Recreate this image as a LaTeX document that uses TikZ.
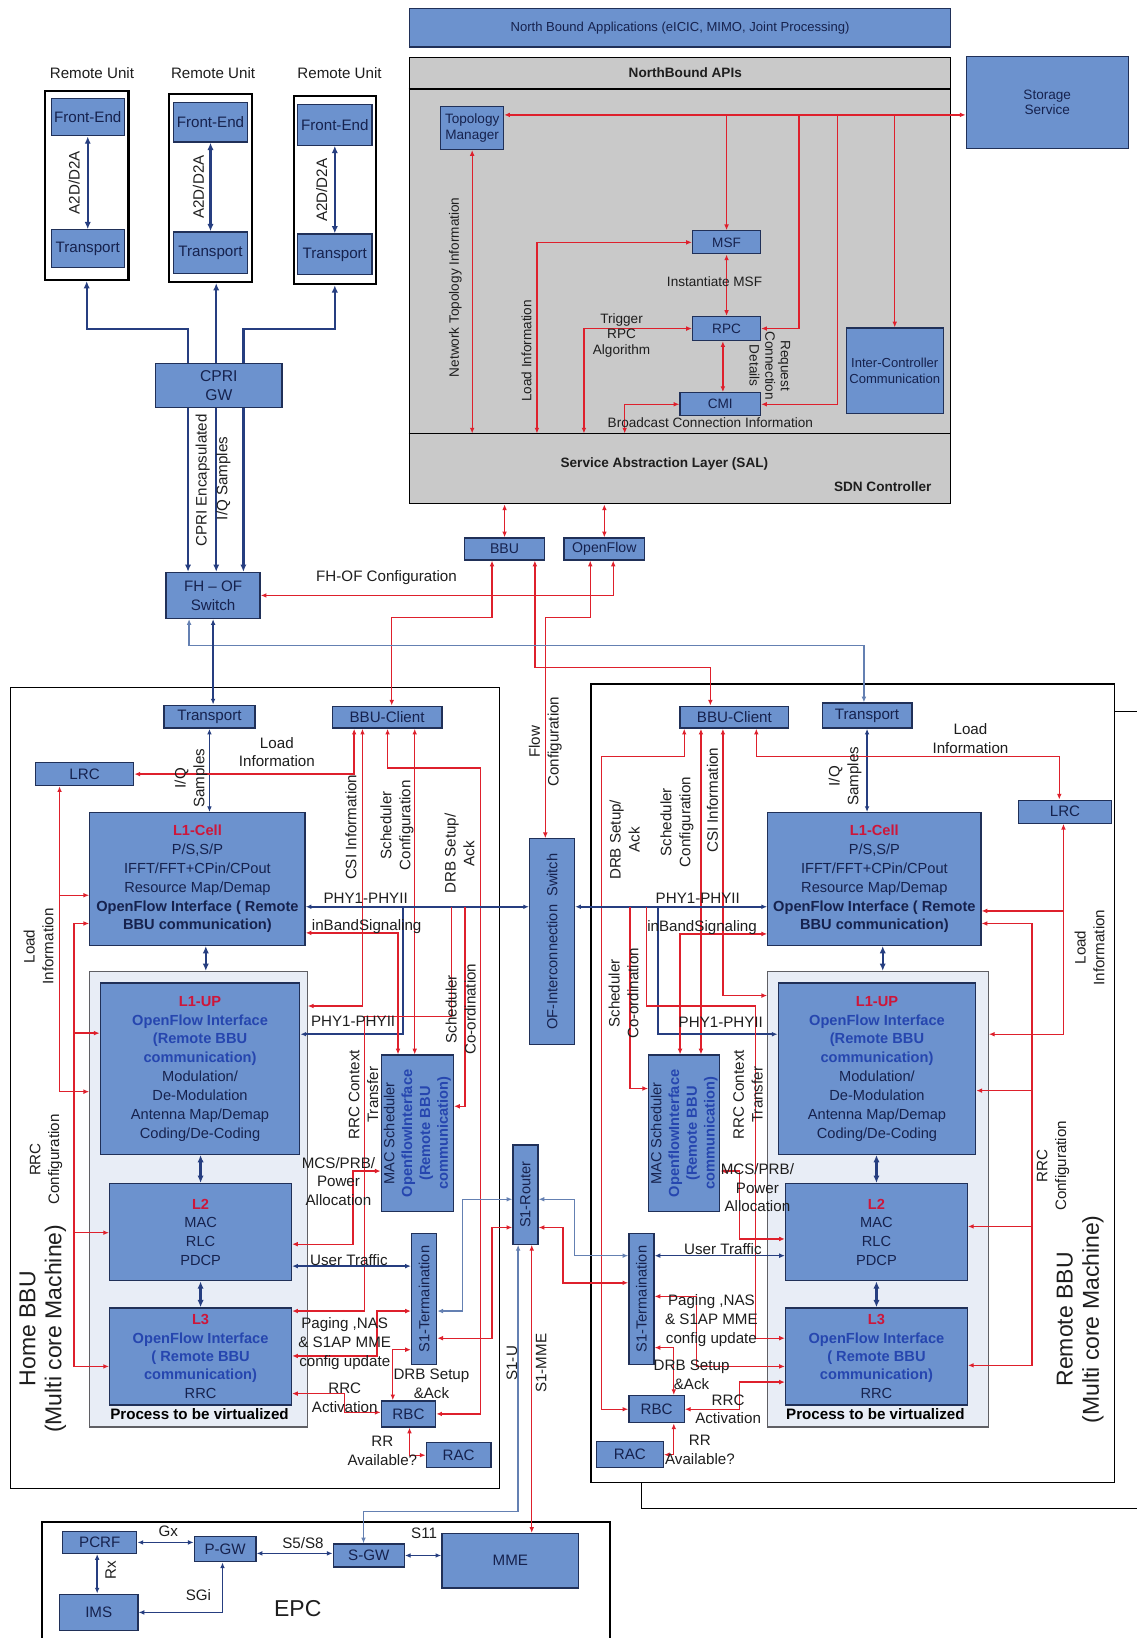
\documentclass[tikz,border=0pt]{standalone}
\usepackage{fontspec}
\setmainfont{Liberation Sans}
\usetikzlibrary{arrows.meta}
\definecolor{bfill}{RGB}{108,146,206}
\definecolor{bdraw}{RGB}{32,48,88}
\definecolor{btext}{RGB}{22,34,78}
\definecolor{myred}{RGB}{222,32,44}
\definecolor{navy}{RGB}{38,62,128}
\definecolor{ltblue}{RGB}{100,128,178}
\definecolor{sdngrey}{RGB}{201,201,201}
\definecolor{procfill}{RGB}{232,237,246}
\definecolor{procdraw}{RGB}{95,95,100}
\definecolor{redtxt}{RGB}{205,22,58}
\definecolor{ofblue}{RGB}{38,70,175}
\definecolor{labtxt}{RGB}{30,30,30}
\newcommand\fS{\fontsize{13}{15}\selectfont}
\newcommand\fM{\fontsize{14}{18}\selectfont}
\newcommand\fB{\fontsize{14.5}{18}\selectfont}
\newcommand\fL{\fontsize{22}{25}\selectfont}
\newcommand\Bx[7][]{\node[bbox,minimum width={(#5-#3)*1pt},minimum height={(#6-#4)*1pt},#1] (#2) at ({(#3+#5)/2},{(#4+#6)/2}) {#7};}
\newcommand\Lb[5][]{\node[lab,#1] (#2) at (#3,#4) {#5};}
\newcommand\Rd[1]{{\color{redtxt}\bfseries #1}}
\newcommand\Ob[1]{{\color{ofblue}\bfseries #1}}
\tikzset{
 >={Latex[length=5.5pt,width=4.5pt]},
 bbox/.style={draw=bdraw,fill=bfill,line width=1.2pt,inner sep=0pt,text=btext,align=center,font=\fB},
 frame/.style={bbox,fill=none,draw=black,line width=1.6pt},
 lab/.style={font=\fB,text=labtxt,align=center,inner sep=0pt},
 slab/.style={lab,font=\fS},
 redl/.style={draw=myred,line width=1.3pt},
 navl/.style={draw=navy,line width=1.5pt},
 navth/.style={draw=navy,line width=2.2pt,>={Latex[length=7pt,width=6pt]}},
 ltl/.style={draw=ltblue,line width=1.3pt}
}
\begin{document}
\begin{tikzpicture}[x=1pt,y=-1pt]
\useasboundingbox (0,0) rectangle (1088,1568);
\fill[white] (0,0) rectangle (1088,1568);

% ---------------- frames
\Bx[frame,line width=2pt]{ru1}{43}{87}{123}{268}{}
\Bx[frame,line width=2pt]{ru2}{162}{90}{241}{270}{}
\Bx[frame,line width=2pt]{ru3}{281}{92}{360}{272}{}
\Bx[fill=sdngrey,draw=black,line width=1.6pt]{sdn}{392}{55}{910}{482}{}
\draw[black,line width=1.6pt] (sdn.west |- 0,85) -- (sdn.east |- 0,85);
\draw[black,line width=1.6pt] (sdn.west |- 0,415) -- (sdn.east |- 0,415);
\Bx[frame]{home}{10}{658}{478}{1425}{}
\Bx[frame]{rem}{566}{655}{1067}{1419}{}
\draw[black,line width=1.6pt] (rem.east |- 0,681) -- (1088,681);
\draw[black,line width=1.6pt] (rem.south -| 614,0) -- (614,1444) -- (1088,1444);
\Bx[fill=procfill,draw=procdraw]{hproc}{86}{930}{294}{1366}{}
\Bx[fill=procfill,draw=procdraw]{rproc}{735}{930}{946}{1366}{}
\draw[black,line width=1.6pt] (40,1575) -- (40,1457) -- (584,1457) -- (584,1575);

% ---------------- remote units
\Bx{fe1}{49}{94}{119}{130}{Front-End}
\Bx{tr1}{49}{220}{119}{256}{Transport}
\Bx{fe2}{166}{98}{237}{136}{Front-End}
\Bx{tr2}{166}{222}{237}{262}{Transport}
\Bx{fe3}{285}{100}{356}{139}{Front-End}
\Bx{tr3}{285}{224}{356}{263}{Transport}
\Bx[font=\fontsize{15}{18}\selectfont]{gw}{149}{348}{270}{390}{CPRI\\GW}
\Bx{fhof}{159}{548}{249}{592}{FH – OF\\Switch}

% ---------------- SDN
\Bx[font=\fontsize{12.5}{14}\selectfont]{nba}{392}{8}{910}{45}{North Bound Applications (eICIC, MIMO, Joint Processing)}
\Bx[font=\fS]{tm}{422}{102}{482}{143}{Topology\\Manager}
\Bx[font=\fS]{msf}{663}{221}{728}{243}{MSF}
\Bx[font=\fS]{rpc}{663}{303}{728}{326}{RPC}
\Bx[font=\fS]{cmi}{651}{376}{728}{398}{CMI}
\Bx[font=\fontsize{12.5}{14.5}\selectfont]{icc}{810}{314}{903}{396}{Inter-Controller\\Communication}
\Bx[font=\fS]{sto}{925}{54}{1080}{142}{Storage\\Service}
\Bx[font=\fontsize{13.5}{15}\selectfont]{bbu}{445}{515}{521}{536}{BBU}
\Bx[font=\fontsize{13.5}{15}\selectfont]{ofl}{540}{515}{617}{536}{OpenFlow}

% ---------------- home BBU
\Bx{htr}{157}{675}{244}{697}{Transport}
\Bx{hbc}{318}{676}{423}{697}{BBU-Client}
\Bx{hlrc}{34}{730}{128}{752}{LRC}
\Bx[font=\fM]{hl1c}{86}{778}{292}{905}{\Rd{L1-Cell}\\P/S,S/P\\IFFT/FFT+CPin/CPout\\Resource Map/Demap\\{\bfseries OpenFlow Interface ( Remote}\\{\bfseries BBU communication)}}
\Bx[font=\fM]{hl1u}{96}{941}{287}{1105}{\Rd{L1-UP}\\\Ob{OpenFlow Interface}\\\Ob{(Remote BBU}\\\Ob{communication)}\\Modulation/\\De-Modulation\\Antenna Map/Demap\\Coding/De-Coding}
\Bx[font=\fM]{hl2}{105}{1133}{279}{1226}{\Rd{L2}\\MAC\\RLC\\PDCP}
\Bx[font=\fontsize{14}{17.5}\selectfont]{hl3}{105}{1252}{279}{1345}{\Rd{L3}\\\Ob{OpenFlow Interface}\\\Ob{( Remote BBU}\\\Ob{communication)}\\RRC}
\Bx{hmac}{365}{1010}{434}{1160}{}
\Bx{hs1t}{394}{1181}{418}{1306}{}
\Bx{hrbc}{365}{1341}{417}{1366}{RBC}
\Bx{hrac}{408}{1381}{470}{1405}{RAC}
\Bx{s1r}{491}{1096}{515}{1191}{}
\Bx{ofs}{507}{803}{550}{1000}{}

% ---------------- remote BBU
\Bx{rcl}{651}{676}{755}{697}{BBU-Client}
\Bx{rtr}{787}{673}{873}{697}{Transport}
\Bx{rlrc}{975}{766}{1064}{788}{LRC}
\Bx[font=\fM]{rl1c}{735}{778}{939}{905}{\Rd{L1-Cell}\\P/S,S/P\\IFFT/FFT+CPin/CPout\\Resource Map/Demap\\{\bfseries OpenFlow Interface ( Remote}\\{\bfseries BBU communication)}}
\Bx[font=\fM]{rl1u}{745}{941}{934}{1105}{\Rd{L1-UP}\\\Ob{OpenFlow Interface}\\\Ob{(Remote BBU}\\\Ob{communication)}\\Modulation/\\De-Modulation\\Antenna Map/Demap\\Coding/De-Coding}
\Bx[font=\fM]{rl2}{752}{1133}{926}{1226}{\Rd{L2}\\MAC\\RLC\\PDCP}
\Bx[font=\fontsize{14}{17.5}\selectfont]{rl3}{752}{1252}{926}{1345}{\Rd{L3}\\\Ob{OpenFlow Interface}\\\Ob{( Remote BBU}\\\Ob{communication)}\\RRC}
\Bx{rmac}{621}{1010}{689}{1160}{}
\Bx{rs1t}{602}{1181}{626}{1306}{}
\Bx{rrbc}{602}{1336}{655}{1362}{RBC}
\Bx{rrac}{571}{1380}{635}{1405}{RAC}

% ---------------- EPC
\Bx{pcrf}{60}{1466}{131}{1487}{PCRF}
\Bx{pgw}{186}{1471}{245}{1495}{P-GW}
\Bx{sgw}{319}{1478}{387}{1500}{S-GW}
\Bx{mme}{423}{1468}{554}{1520}{MME}
\Bx{ims}{57}{1526}{132}{1561}{IMS}

% ================= connectors
% remote units
\draw[navth,<->] (fe1.south) -- (tr1.north);
\draw[navth,<->] (fe2.south) -- (tr2.north);
\draw[navth,<->] (fe3.south) -- (tr3.north);
\draw[navth,->] (gw.north -| 180,0) -- (180,315) -| (ru1.south);
\draw[navth,->] (gw.north -| 207,0) -- (ru2.south -| 207,0);
\draw[navth,->] (gw.north -| 233,0) -- (233,315) -| (ru3.south);
\foreach \xx in {180,207,233} \draw[navth,->] (gw.south -| \xx,0) -- (fhof.north -| \xx,0);

% SDN
\draw[redl,<->] (tm.east |- 0,110) -- (sto.west |- 0,110);
\draw[redl,->] (msf.north |- 0,110) -- (msf.north);
\coordinate (d1) at (765,110); \coordinate (d2) at (802,110);
\draw[redl,->] (d1) |- (rpc.east);
\draw[redl,->] (d2) |- (cmi.east);
\draw[redl,->] (icc.north |- 0,110) -- (icc.north);
\draw[redl,<->] (msf.south) -- (rpc.north);
\draw[redl,<->] (rpc.south -| 692,0) -- (cmi.north -| 692,0);
\draw[redl,<->] (tm.south) -- (tm.south |- 0,415);
\coordinate (s1) at (514,415); \coordinate (s2) at (559,415); \coordinate (s3) at (598,415);
\draw[redl,<->] (s1) |- (msf.west);
\draw[redl,<->] (s2) |- (rpc.west);
\draw[redl,<->] (s3) |- (cmi.west);
\draw[redl,<->] (bbu.north |- sdn.south) -- (bbu.north);
\draw[redl,<->] (ofl.north |- sdn.south) -- (ofl.north);
\draw[redl,<->] (bbu.south -| 471,0) -- (471,591) -| (hbc.north -| 375,0);
\draw[redl,<->] (bbu.south -| 512,0) -- (512,639) -| (rcl.north -| 680,0);
\draw[redl,<->] (ofl.south -| 565,0) -- (565,591) -| (ofs.north -| 522,0);
\draw[redl,<->] (ofl.south -| 587,0) |- (fhof.east);
\draw[ltl,<->] (fhof.south -| 181,0) -- (181,618) -| (rtr.north -| 827,0);
\draw[navl,<->] (fhof.south) -- (htr.north -| fhof.south);

% home BBU
\draw[navl,<->] (htr.south) -- (hl1c.north -| htr.south);
\draw[redl,<->] (hbc.south -| 339,0) |- (hlrc.east);
\draw[redl,<->] (hbc.south -| 347,0) |- (hproc.east |- 0,963);
\draw[redl,<->] (hbc.south -| 397,0) -- (hmac.north -| 397,0);
\draw[redl,<->] (hbc.south -| 371,0) |- (460,735) |- (hrbc.east);
\draw[navl,<->] (hl1c.east |- 0,868) -- (ofs.west |- 0,868);
\coordinate (hp1) at (386,868); \coordinate (hp2) at (432,868); \coordinate (hp3) at (445,868);
\draw[navl,->] (hp1) |- (hl1u.east |- 0,990);
\draw[redl,<->] (hmac.north -| 381,0) |- (hl1c.east |- 0,893);
\draw[redl,->] (hp2) |- (349,973) |- (hl3.east |- 0,1255);
\draw[redl,->] (hp3) |- (hmac.east |- 0,1059);
\draw[redl,<->] (hl2.east |- 0,1191) -| (338,1121) -- (hmac.west |- 0,1121);
\draw[navl,<->] (hl2.east |- 0,1212) -- (hs1t.west |- 0,1212);
\draw[redl,<->] (hl3.east |- 0,1298) -| (361,1255) -- (hs1t.west |- 0,1255);
\draw[redl,<->] (hs1t.west |- 0,1292) -| (hrbc.north -| 376,0);
\draw[redl,<->] (hl3.east |- 0,1334) -| (330,1352) -- (hrbc.west |- 0,1352);
\draw[redl,<->] (hrbc.south -| 392,0) |- (hrac.west);
\draw[redl,<->] (s1r.west |- 0,1175) -| (471,1281) -- (hs1t.east |- 0,1281);
\draw[ltl,<->] (s1r.west |- 0,1148) -| (443,1255) -- (hs1t.east |- 0,1255);
\draw[redl,<->] (hlrc.south -| 57,0) |- (hl1c.west |- 0,857);
\draw[redl,->] (57,857) |- (hproc.west |- 0,1045);
\draw[redl,<->] (hl1c.west |- 0,884) -| (71,1308) -- (hl3.west |- 0,1308);
\draw[redl,->] (71,989) -- (hl1u.west |- 0,989);
\draw[redl,->] (71,1180) -- (hl2.west |- 0,1180);
\draw[navth,<->] (hl1c.south -| 197,0) -- (hproc.north -| 197,0);
\draw[navth,<->] (hl1u.south -| 192,0) -- (hl2.north -| 192,0);
\draw[navth,<->] (hl2.south -| 192,0) -- (hl3.north -| 192,0);

% remote BBU
\draw[navl,<->] (rtr.south) -- (rl1c.north -| rtr.south);
\draw[redl,<->] (rcl.south -| 655,0) |- (576,724) |- (rrbc.west);
\draw[redl,<->] (rcl.south -| 671,0) -- (rmac.north -| 671,0);
\draw[redl,<->] (rcl.south -| 692,0) |- (rproc.west |- 0,953);
\draw[redl,<->] (rcl.south -| 724,0) |- (1014,724) -- (rlrc.north -| 1014,0);
\draw[redl,<->] (rlrc.south -| 1018,0) |- (rl1c.east |- 0,872);
\draw[redl,->] (1018,872) |- (rproc.east |- 0,990);
\draw[redl,<->] (rl1c.east |- 0,884) -| (988,1307) -- (rl3.east |- 0,1307);
\draw[redl,->] (988,1044) -- (rl1u.east |- 0,1044);
\draw[redl,->] (988,1174) -- (rl2.east |- 0,1174);
\draw[navl,<->] (ofs.east |- 0,868) -- (rl1c.west |- 0,868);
\coordinate (rp1) at (630,868); \coordinate (rp2) at (619,868); \coordinate (rp3) at (603,868);
\draw[navl,->] (rp1) |- (rl1u.west |- 0,990);
\draw[redl,<->] (rmac.north -| 651,0) |- (rl1c.west |- 0,894);
\draw[redl,->] (rp3) |- (rmac.west |- 0,1042);
\draw[redl,->] (rp2) |- (723,963) |- (rl3.west |- 0,1281);
\draw[redl,<->] (rmac.east |- 0,1121) -| (708,1186) -- (rl2.west |- 0,1186);
\draw[navl,<->] (rs1t.east |- 0,1202) -- (rl2.west |- 0,1202);
\draw[redl,<->] (rs1t.east |- 0,1241) -| (667,1308) -- (rl3.west |- 0,1308);
\draw[redl,<->] (rs1t.east |- 0,1290) -| (rrbc.north -| 645,0);
\draw[redl,<->] (rrbc.east) -| (708,1323) -- (rl3.west |- 0,1323);
\draw[redl,<->] (rrbc.south -| 645,0) |- (rrac.east);
\draw[ltl,<->] (s1r.east |- 0,1148) -| (550,1202) -- (rs1t.west |- 0,1202);
\draw[redl,<->] (s1r.east |- 0,1175) -| (539,1228) -- (rs1t.west |- 0,1228);
\draw[navth,<->] (rl1c.south -| 845,0) -- (rproc.north -| 845,0);
\draw[navth,<->] (rl1u.south -| 839,0) -- (rl2.north -| 839,0);
\draw[navth,<->] (rl2.south -| 839,0) -- (rl3.north -| 839,0);

% S1 and EPC
\draw[ltl,<->] (s1r.south -| 496,0) -- (496,1447) -| (sgw.north -| 348,0);
\draw[redl,<->] (s1r.south -| 509,0) -- (mme.north -| 509,0);
\draw[navl,<->] (pcrf.east) -- (pgw.west |- pcrf.east);
\draw[navl,<->] (pgw.east |- 0,1487) -- (sgw.west |- 0,1487);
\draw[navl,<->] (sgw.east) -- (mme.west |- sgw.east);
\draw[navl,<->] (pcrf.south -| 93,0) -- (ims.north -| 93,0);
\draw[navl,<->] (pgw.south -| 213,0) |- (ims.east);

% ================= rotated box texts
\node[lab,rotate=90,text=btext,font=\fontsize{14}{17}\selectfont] (hmact) at (hmac.center) {MAC Scheduler\\\Ob{OpenflowInterface}\\\Ob{(Remote BBU}\\\Ob{communication)}};
\node[lab,rotate=90,text=btext,font=\fontsize{14}{17}\selectfont] (rmact) at (rmac.center) {MAC Scheduler\\\Ob{OpenflowInterface}\\\Ob{(Remote BBU}\\\Ob{communication)}};
\node[lab,rotate=90,text=btext,font=\fM] (hs1tt) at (hs1t.center) {S1-Termaination};
\node[lab,rotate=90,text=btext,font=\fM] (rs1tt) at (rs1t.center) {S1-Termaination};
\node[lab,rotate=90,text=btext,font=\fM] (s1rt) at (s1r.center) {S1-Router};
\node[lab,rotate=90,text=btext,font=\fM] (ofst) at (ofs.center) {OF-Interconnection\ \ Switch};

% ================= labels
\Lb{lru1}{88}{70}{Remote Unit}
\Lb{lru2}{204}{70}{Remote Unit}
\Lb{lru3}{325}{70}{Remote Unit}
\Lb[rotate=90]{la1}{71}{175}{A2D/D2A}
\Lb[rotate=90]{la2}{190}{179}{A2D/D2A}
\Lb[rotate=90]{la3}{308}{182}{A2D/D2A}
\Lb[rotate=90]{lcpri}{194}{460}{CPRI Encapsulated}
\Lb[rotate=90]{liq}{214}{458}{I/Q Samples}
\Lb{lfhof}{370}{553}{FH-OF Configuration}
\Lb[font=\fS\bfseries]{lnba}{656}{70}{NorthBound APIs}
\Lb[font=\fS\bfseries]{lsal}{636}{444}{Service Abstraction Layer (SAL)}
\Lb[font=\fS\bfseries]{lsdn}{845}{466}{SDN Controller}
\Lb[slab,rotate=90]{lnti}{436}{275}{Network Topology Information}
\Lb[slab,rotate=90]{lsli}{504}{336}{Load Information}
\Lb[slab]{linst}{684}{270}{Instantiate MSF}
\Lb[slab]{ltrig}{595}{321}{Trigger\\RPC\\Algorithm}
\Lb[slab,rotate=-90]{lreq}{737}{350}{Request\\Connection\\Details}
\Lb[slab]{lbro}{680}{405}{Broadcast Connection Information}
\Lb[rotate=90]{lflow}{522}{710}{Flow\\Configuration}
% home labels
\Lb[rotate=90]{hliq}{183}{745}{I/Q\\Samples}
\Lb{hlli}{265}{720}{Load\\Information}
\Lb[rotate=90]{hlcsi}{336}{792}{CSI Information}
\Lb[rotate=90]{hlsc}{380}{790}{Scheduler\\Configuration}
\Lb[rotate=90]{hldrb}{440}{817}{DRB Setup/\\Ack}
\Lb{hlphy}{350}{860}{PHY1-PHYII}
\Lb{hlinb}{351}{887}{inBandSignaling}
\Lb{hlphy2}{338}{978}{PHY1-PHYII}
\Lb[rotate=90]{hlsco}{441}{966}{Scheduler\\Co-ordination}
\Lb[rotate=90]{hlrrc}{348}{1048}{RRC Context\\Transfer}
\Lb{hlmcs}{324}{1131}{MCS/PRB/\\Power\\Allocation}
\Lb{hlut}{334}{1206}{User Traffic}
\Lb{hlpag}{330}{1286}{Paging ,NAS\\\& S1AP MME\\config update}
\Lb{hldrb2}{413}{1325}{DRB Setup\\\&Ack}
\Lb{hlact}{330}{1338}{RRC\\Activation}
\Lb{hlrr}{366}{1389}{RR\\Available?}
\Lb[font=\fB\bfseries,text=black]{hlproc}{191}{1354}{Process to be virtualized}
\Lb[rotate=90]{hlload}{37}{906}{Load\\Information}
\Lb[rotate=90]{hlrcfg}{44}{1110}{RRC\\Configuration}
\Lb[rotate=90,font=\fL]{hlname}{41}{1272}{Home BBU\\(Multi core Machine)}
% remote labels
\Lb[rotate=90]{rliq}{809}{743}{I/Q\\Samples}
\Lb{rlli}{929}{707}{Load\\Information}
\Lb[rotate=90]{rldrb}{598}{804}{DRB Setup/\\Ack}
\Lb[rotate=90]{rlsc}{648}{787}{Scheduler\\Configuration}
\Lb[rotate=90]{rlcsi}{682}{766}{CSI Information}
\Lb{rlphy}{668}{860}{PHY1-PHYII}
\Lb{rlinb}{672}{888}{inBandSignaling}
\Lb{rlphy2}{690}{979}{PHY1-PHYII}
\Lb[rotate=90]{rlsco}{597}{951}{Scheduler\\Co-ordination}
\Lb[rotate=90]{rlrrc}{716}{1048}{RRC Context\\Transfer}
\Lb{rlmcs}{725}{1137}{MCS/PRB/\\Power\\Allocation}
\Lb{rlut}{692}{1196}{User Traffic}
\Lb{rlpag}{681}{1264}{Paging ,NAS\\\& S1AP MME\\config update}
\Lb{rldrb2}{662}{1316}{DRB Setup\\\&Ack}
\Lb{rlact}{697}{1349}{RRC\\Activation}
\Lb{rlrr}{670}{1388}{RR\\Available?}
\Lb[font=\fB\bfseries,text=black]{rlproc}{838}{1354}{Process to be virtualized}
\Lb[rotate=90]{rlload}{1043}{907}{Load\\Information}
\Lb[rotate=90]{rlrcfg}{1008}{1116}{RRC\\Configuration}
\Lb[rotate=90,font=\fL]{rlname}{1034}{1263}{Remote BBU\\(Multi core Machine)}
% EPC labels
\Lb{lgx}{161}{1466}{Gx}
\Lb{ls5}{290}{1477}{S5/S8}
\Lb{ls11}{406}{1468}{S11}
\Lb[rotate=90]{lrx}{106}{1503}{Rx}
\Lb{lsgi}{190}{1527}{SGi}
\Lb[font=\fL]{lepc}{285}{1540}{EPC}
\Lb[rotate=90]{ls1u}{490}{1305}{S1-U}
\Lb[rotate=90]{ls1m}{518}{1305}{S1-MME}
\end{tikzpicture}
\end{document}
